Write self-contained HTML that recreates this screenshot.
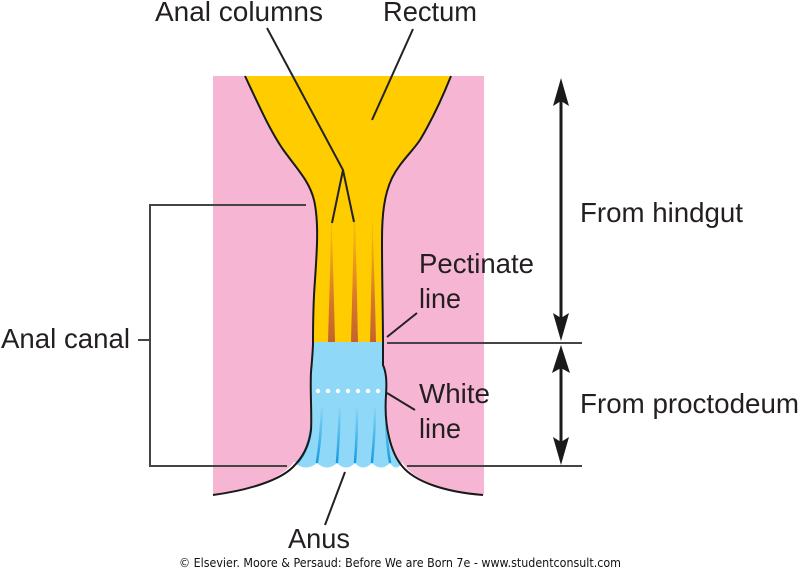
<!DOCTYPE html>
<html><head><meta charset="utf-8"><style>
html,body{margin:0;padding:0;background:#fff;}
svg{display:block;}
text{font-family:"Liberation Sans",Arial,sans-serif;font-size:28px;fill:#231f20;}
</style></head><body>
<svg width="800" height="570" viewBox="0 0 800 570" xmlns="http://www.w3.org/2000/svg">
<defs>
<linearGradient id="br" gradientUnits="userSpaceOnUse" x1="0" y1="200" x2="0" y2="342">
<stop offset="0" stop-color="#ffcc00"/><stop offset="0.3" stop-color="#f2ae14"/><stop offset="0.7" stop-color="#d9782a"/><stop offset="1" stop-color="#c4622e"/>
</linearGradient>
<linearGradient id="bl" gradientUnits="userSpaceOnUse" x1="0" y1="405" x2="0" y2="466">
<stop offset="0" stop-color="#8fd8f8"/><stop offset="1" stop-color="#0f98de"/>
</linearGradient>
</defs>
<!-- pink block -->
<rect x="213" y="76" width="271" height="419" fill="#f6b6d3"/>
<!-- white cutout -->
<path d="M205,500 L205,495 L213,495 C250,490 280,480 294,462 L402,462 C415,482 445,492 484,495 L490,495 L490,500 Z" fill="#fff"/>
<!-- yellow rectum -->
<path d="M245,76 C260,108 270,130 282,148 C296,168 309,180 314,200 C319,222 317,250 315,280 C313,305 313,325 313,342 L383,342 C383,320 382,280 382,240 C382,215 384,195 392,178 C400,162 412,152 420,140 C432,120 443,96 451,76 Z" fill="#ffcc00"/>
<!-- brown columns -->
<path d="M331,205 C331,260 329,300 328,342 L335,342 C334,300 333,260 331,205 Z" fill="url(#br)"/>
<path d="M354,180 C354,240 352,300 351,342 L358,342 C357,300 356,240 354,180 Z" fill="url(#br)"/>
<path d="M372,210 C372,260 371,300 370,342 L376,342 C375,300 374,260 372,210 Z" fill="url(#br)"/>
<!-- blue -->
<path d="M313,342 L383,342 L383,365 C386,372 387,380 386,395 C385,410 386,425 389,437 C392,450 397,458 402,463
Q396,472 390,463 Q381,472 372,463 Q363,472 355,463 Q346,472 337,463 Q327,472 317,463 Q306,472 295,463
C302,455 309,447 311,430 C312,415 310,390 311,372 C312,360 313,350 313,342 Z" fill="#8fd8f8"/>
<!-- folds -->
<g fill="none" stroke="url(#bl)" stroke-width="2.5" stroke-linecap="round">
<path d="M322,408 C321,430 319,450 317,462"/>
<path d="M340,408 C339,430 338,450 337,462"/>
<path d="M357,408 C357,430 356,450 355,462"/>
<path d="M375,408 C375,430 373,450 372,462"/>
<path d="M386,425 C387,440 388,452 390,462"/>
<path d="M311,428 C309,445 304,455 298,462"/>
</g>
<!-- white dots -->
<g fill="#fff">
<circle cx="318" cy="391" r="2.2"/><circle cx="328" cy="391" r="2.2"/><circle cx="338" cy="391" r="2.2"/><circle cx="348" cy="391" r="2.2"/><circle cx="358" cy="391" r="2.2"/><circle cx="368" cy="391" r="2.2"/><circle cx="378" cy="391" r="2.2"/>
</g>
<!-- outlines -->
<g fill="none" stroke="#1a1a1a" stroke-width="2">
<path d="M245,76 C260,108 270,130 282,148 C296,168 309,180 314,200 C319,222 317,250 315,280 C313,305 313,325 313,342 C313,350 312,360 311,372 C310,390 312,415 311,430 C309,447 302,458 293,467 C280,480 250,490 213,495"/>
<path d="M451,76 C443,96 432,120 420,140 C412,152 400,162 392,178 C384,195 382,215 382,240 C382,280 383,320 383,342 L383,365 C386,372 387,380 386,395 C385,410 386,425 389,437 C392,450 397,460 402,466 C415,482 445,492 483,495"/>
</g>
<!-- pointer lines -->
<g fill="none" stroke="#222" stroke-width="2">
<path d="M267,28 L343,170 L332,223 M343,170 L354,222"/>
<path d="M413,29 L372,120"/>
<path d="M417,313 L387,337"/>
<path d="M387,393 L415,410"/>
<path d="M345,472 L325,525"/>
</g>
<g fill="none" stroke="#444" stroke-width="2">
<path d="M306,205 H150 V466 H287"/>
<path d="M138,340 H150"/>
<path d="M387,343 H582"/>
<path d="M407,466 H582"/>
</g>
<!-- arrows -->
<g fill="#1a1a1a" stroke="none">
<rect x="559.5" y="95" width="3" height="230"/>
<polygon points="561,78 569,106 561,101 553,106"/>
<polygon points="561,341 569,313 561,318 553,313"/>
<rect x="559.5" y="360" width="3" height="90"/>
<polygon points="561,345 570,373 561,368 552,373"/>
<polygon points="561,465 569,437 561,442 553,437"/>
</g>
<!-- labels -->
<text x="155" y="21" textLength="168" lengthAdjust="spacingAndGlyphs">Anal columns</text>
<text x="383" y="21" textLength="94" lengthAdjust="spacingAndGlyphs">Rectum</text>
<text x="580" y="222" textLength="163" lengthAdjust="spacingAndGlyphs">From hindgut</text>
<text x="419" y="273" textLength="115" lengthAdjust="spacingAndGlyphs">Pectinate</text>
<text x="419" y="308" textLength="42" lengthAdjust="spacingAndGlyphs">line</text>
<text x="580" y="413" textLength="219" lengthAdjust="spacingAndGlyphs">From proctodeum</text>
<text x="419" y="403" textLength="71" lengthAdjust="spacingAndGlyphs">White</text>
<text x="419" y="438" textLength="42" lengthAdjust="spacingAndGlyphs">line</text>
<text x="1" y="348" textLength="129" lengthAdjust="spacingAndGlyphs">Anal canal</text>
<text x="288" y="548" textLength="62" lengthAdjust="spacingAndGlyphs">Anus</text>
<text x="179" y="567" style="font-family:'DejaVu Sans',Verdana,sans-serif;font-size:12px;fill:#111;" textLength="442" lengthAdjust="spacingAndGlyphs">© Elsevier. Moore &amp; Persaud: Before We are Born 7e - www.studentconsult.com</text>
</svg>
</body></html>
